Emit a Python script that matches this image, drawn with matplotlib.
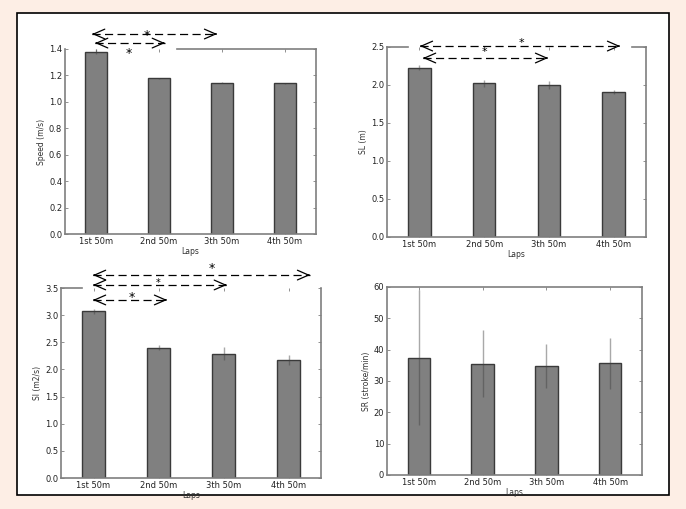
import matplotlib
matplotlib.use("Agg")
import matplotlib.pyplot as plt
from matplotlib.patches import Rectangle

laps = ["1st 50m", "2nd 50m", "3th 50m", "4th 50m"]

speed = [1.38, 1.18, 1.145, 1.14]
speed_err = [0.02, 0.004, 0.004, 0.006]

sl = [2.23, 2.02, 2.00, 1.91]
sl_err = [0.03, 0.05, 0.05, 0.03]

si = [3.07, 2.40, 2.29, 2.18]
si_err = [0.05, 0.05, 0.12, 0.09]

sr = [37.5, 35.5, 34.8, 35.7]
sr_err = [21.5, 10.7, 7.1, 8.1]

W, H = 686, 509
fig = plt.figure(figsize=(W / 100, H / 100), dpi=100)
fig.patch.set_facecolor("#fdeee5")

# white panel with black border
fig.add_artist(Rectangle((17 / W, (H - 495) / H), (669 - 17) / W, (495 - 13) / H,
                         transform=fig.transFigure, facecolor="white",
                         edgecolor="black", lw=1.2, zorder=-5))


def px_axes(l, t, r, b):
    ax = fig.add_axes([l / W, (H - b) / H, (r - l) / W, (b - t) / H])
    ax.set_zorder(1)
    return ax


spine_col = "#7f7f7f"


def draw(ax, vals, errs, ylabel, yticks, ylim, top_segments=None):
    x = list(range(len(vals)))
    ax.bar(x, vals, width=0.35, color="#808080", edgecolor="#3a3a3a", lw=1.0,
           zorder=2)
    ax.errorbar(x, vals, yerr=errs, fmt="none", ecolor="0.25", alpha=0.45,
                elinewidth=1.0, capsize=0, zorder=3)
    ax.set_xlim(-0.5, len(vals) - 0.5)
    ax.set_ylim(*ylim)
    ax.set_xticks(x)
    ax.set_xticklabels(laps)
    ax.set_yticks(yticks)
    ax.tick_params(direction="in", length=2.5, width=0.6, colors=spine_col,
                   labelcolor="#222222", labelsize=6, top=True, right=True, pad=2)
    ax.set_xlabel("Laps", fontsize=5.5, color="#333333", labelpad=1)
    ax.set_ylabel(ylabel, fontsize=5.5, color="#333333", labelpad=2)
    for s in ax.spines.values():
        s.set_color(spine_col)
        s.set_linewidth(1.2)
    if top_segments is not None:
        ax.spines["top"].set_visible(False)
        for a, b in top_segments:
            ax.plot([a, b], [1, 1], transform=ax.transAxes, color=spine_col,
                    lw=1.2, clip_on=False, zorder=5)


def sig(ax, x0, x1, y, sx, sy, star_size=9):
    ax.plot([x0, x1], [y, y], transform=ax.transAxes, color="black", lw=0.9,
            ls=(0, (6.5, 3.5)), clip_on=False, zorder=6)
    hp = dict(arrowstyle="->,head_length=0.8,head_width=0.35", lw=0.9, color="black")
    ax.annotate("", xy=(x0, y), xytext=(x0 + 0.005, y), xycoords="axes fraction",
                textcoords="axes fraction", arrowprops=hp, annotation_clip=False)
    ax.annotate("", xy=(x1, y), xytext=(x1 - 0.005, y), xycoords="axes fraction",
                textcoords="axes fraction", arrowprops=hp, annotation_clip=False)
    ax.text(sx, sy, "*", transform=ax.transAxes, ha="center", va="center",
            fontsize=star_size, color="black", clip_on=False)


# top-left: Speed
ax1 = px_axes(65, 49, 316, 234)
draw(ax1, speed, speed_err, "Speed (m/s)", [0.0, 0.2, 0.4, 0.6, 0.8, 1.0, 1.2, 1.4],
     (0, 1.4), top_segments=[(0.446, 1.0)])
sig(ax1, 0.108, 0.606, 1.081, 0.327, 1.075)
sig(ax1, 0.12, 0.398, 1.032, 0.256, 0.975)

# top-right: SL
ax2 = px_axes(387, 47, 646, 237)
draw(ax2, sl, sl_err, "SL (m)", [0.0, 0.5, 1.0, 1.5, 2.0, 2.5], (0, 2.5),
     top_segments=[(0.0, 0.081), (0.946, 1.0)])
sig(ax2, 0.127, 0.90, 1.005, 0.521, 1.02, star_size=8)
sig(ax2, 0.139, 0.622, 0.942, 0.375, 0.972, star_size=8)

# bottom-left: SI
ax3 = px_axes(61, 288, 321, 478)
draw(ax3, si, si_err, "SI (m2/s)", [0.0, 0.5, 1.0, 1.5, 2.0, 2.5, 3.0, 3.5], (0, 3.5),
     top_segments=[(0.0, 0.081)])
sig(ax3, 0.123, 0.958, 1.068, 0.581, 1.105)
sig(ax3, 0.123, 0.638, 1.016, 0.373, 1.028, star_size=7)
sig(ax3, 0.123, 0.408, 0.937, 0.273, 0.952)

# bottom-right: SR
ax4 = px_axes(387, 287, 642, 475)
draw(ax4, sr, sr_err, "SR (stroke/min)", [0, 10, 20, 30, 40, 50, 60], (0, 60))

fig.savefig("out.png", dpi=100, facecolor=fig.get_facecolor())
